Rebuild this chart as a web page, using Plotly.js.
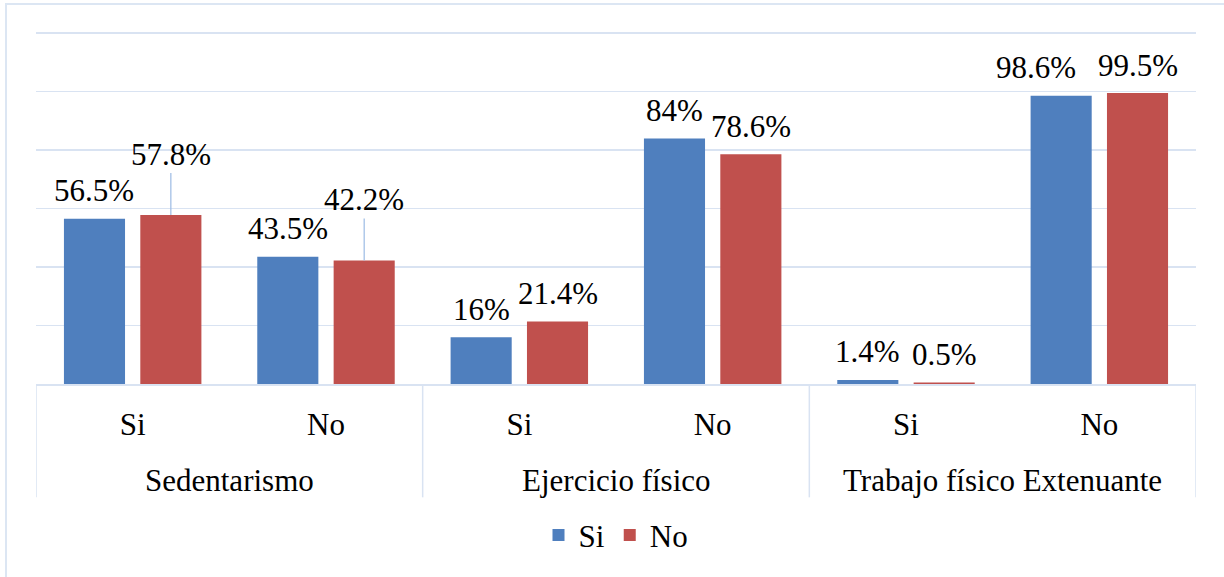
<!DOCTYPE html>
<html>
<head>
<meta charset="utf-8">
<script src="https://cdn.plot.ly/plotly-3.0.1.min.js"></script>
<style>
  html, body { margin: 0; padding: 0; background: #ffffff; overflow: hidden; }
  #wrap { position: relative; width: 1224px; height: 577px; }
  #frame { position: absolute; left: 5px; top: 3px; width: 1240px; height: 600px;
           border: 2px solid #dce6f3; box-sizing: border-box; pointer-events: none; }
  #chart { position: absolute; left: 0; top: 0; width: 1224px; height: 577px; }
</style>
</head>
<body>
<div id="wrap">
  <div id="chart"></div>
  <div id="frame"></div>
</div>
<script>
// ---- data ----
const groups = ["Sedentarismo", "Sedentarismo", "Ejercicio físico", "Ejercicio físico",
                "Trabajo físico Extenuante", "Trabajo físico Extenuante"];
const subCategories = ["Si", "No", "Si", "No", "Si", "No"];
const seriesNames = ["Si", "No"];
const siValues = [56.5, 43.5, 16, 84, 1.4, 98.6];
const noValues = [57.8, 42.2, 21.4, 78.6, 0.5, 99.5];
// labels of the "No" series that were moved up with a leader line
const noLifted = [true, true, false, false, false, false];

// ---- style ----
const FONT = "Liberation Serif";
const FS = 31;
const GRID = "#d9e3f2";
const BARGAP = 0.21, GROUPGAP = 0.2;
// horizontal nudge (px) of the last "Si" label, to keep it clear of its neighbour
const siLabelNudge = { 5: -25 };
const mkFont = () => ({ family: FONT, size: FS, color: "#000" });

const fmt = v => v + "%";
const idx = subCategories.map((_, i) => i);

const traceSi = {
  type: "bar", name: seriesNames[0], x: idx, y: siValues,
  marker: { color: "#4f7fbe" }, hoverinfo: "skip"
};
const traceNo = {
  type: "bar", name: seriesNames[1], x: idx, y: noValues,
  marker: { color: "#c0504d" }, hoverinfo: "skip"
};

const slot = (1 - BARGAP) / 2;
const annotations = [];
const shapes = [];

// data labels
siValues.forEach((v, i) => {
  annotations.push({ xref: "x", yref: "y", x: i - slot / 2, y: v, yanchor: "middle",
    yshift: 28, xshift: siLabelNudge[i] || 0, text: fmt(v), showarrow: false, font: mkFont() });
});
noValues.forEach((v, i) => {
  if (noLifted[i]) {
    annotations.push({ xref: "x", yref: "y", x: i + slot / 2, y: v,
      text: fmt(v), showarrow: true, arrowhead: 0, arrowwidth: 1.2,
      arrowcolor: "#9cbbe4", ax: 0, ay: -61, standoff: 0, font: mkFont() });
  } else {
    annotations.push({ xref: "x", yref: "y", x: i + slot / 2, y: v, yanchor: "middle",
      yshift: 28, text: fmt(v), showarrow: false, font: mkFont() });
  }
});

// group labels and dividers
const uniqueGroups = [];
groups.forEach((g, i) => {
  const last = uniqueGroups[uniqueGroups.length - 1];
  if (last && last.name === g) last.end = i; else uniqueGroups.push({ name: g, start: i, end: i });
});
uniqueGroups.forEach((g, k) => {
  annotations.push({
    xref: "x", yref: "paper", x: (g.start + g.end) / 2, y: -0.2735, yanchor: "middle",
    text: g.name, showarrow: false, font: mkFont()
  });
  if (k === 0) {
    shapes.push({ type: "line", xref: "x", yref: "paper", x0: g.start - 0.5, x1: g.start - 0.5,
                  y0: 0, y1: -0.322, line: { color: GRID, width: 1.5 } });
  }
  shapes.push({ type: "line", xref: "x", yref: "paper", x0: g.end + 0.5, x1: g.end + 0.5,
                y0: 0, y1: -0.322, line: { color: GRID, width: 1.5 } });
});

const layout = {
  width: 1224, height: 577,
  margin: { l: 36, r: 28, t: 32, b: 193 },
  paper_bgcolor: "rgba(0,0,0,0)", plot_bgcolor: "#ffffff",
  font: mkFont(),
  barmode: "group", bargap: BARGAP, bargroupgap: GROUPGAP,
  showlegend: true,
  legend: { orientation: "h", x: 0.5, xanchor: "center", y: -0.43, yanchor: "middle",
            font: mkFont(), traceorder: "normal", itemwidth: 30 },
  xaxis: {
    range: [-0.5, subCategories.length - 0.5], tickvals: idx, ticktext: subCategories,
    showline: true, linecolor: GRID, linewidth: 1.5, showgrid: false, zeroline: false,
    ticks: "", ticklabelstandoff: 12, tickfont: mkFont()
  },
  yaxis: {
    range: [0, 120.4], tickvals: [0, 20, 40, 60, 80, 100, 120], showticklabels: false,
    gridcolor: GRID, gridwidth: 1.5, zeroline: false, showline: false, ticks: ""
  },
  annotations: annotations,
  shapes: shapes
};

Plotly.newPlot("chart", [traceSi, traceNo], layout, { displayModeBar: false, staticPlot: true });
</script>
</body>
</html>
